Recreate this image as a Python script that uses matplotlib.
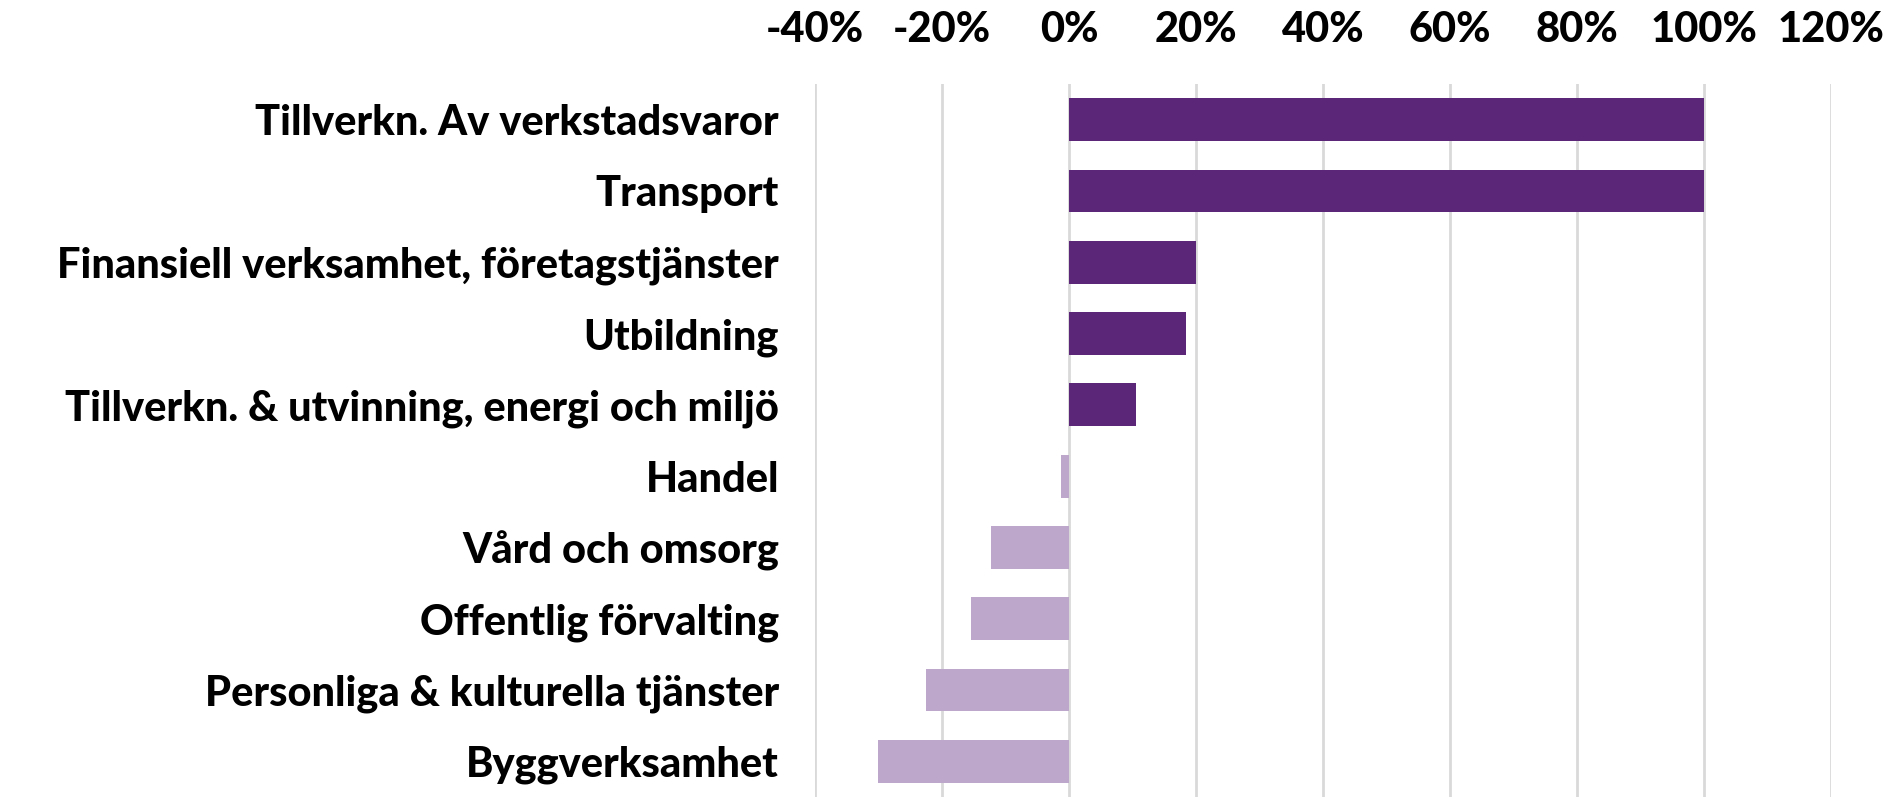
import matplotlib.pyplot as plt
from matplotlib.ticker import FuncFormatter

# --- data ---
categories = [
    "Tillverkn. Av verkstadsvaror",
    "Transport",
    "Finansiell verksamhet, företagstjänster",
    "Utbildning",
    "Tillverkn. & utvinning, energi och miljö",
    "Handel",
    "Vård och omsorg",
    "Offentlig förvalting",
    "Personliga & kulturella tjänster",
    "Byggverksamhet",
]
values = [100, 100, 20, 18.4, 10.5, -1.3, -12.3, -15.4, -22.5, -30.1]

dark_purple = "#5C2678"
light_purple = "#BDA8CB"
colors = [dark_purple if v >= 0 else light_purple for v in values]

plt.rcParams["font.family"] = ["Lato", "DejaVu Sans"]

fig = plt.figure(figsize=(18.92, 7.97), dpi=100)
ax = fig.add_axes([0.4308, 0.0, 0.5369, 0.8946])

y = list(range(len(categories)))
ax.barh(y, values, height=0.6, color=colors, zorder=3)

ax.set_xlim(-40, 120)
ax.set_ylim(len(categories) - 0.5, -0.5)
ax.set_xticks(range(-40, 121, 20))
ax.xaxis.set_major_formatter(FuncFormatter(lambda v, p: f"{v:.0f}%"))
ax.xaxis.tick_top()
ax.tick_params(axis="x", length=0, pad=25, labelsize=30)
ax.tick_params(axis="y", length=0, pad=26, labelsize=30)
ax.set_yticks(y)
ax.set_yticklabels(categories)
for lab in ax.get_xticklabels() + ax.get_yticklabels():
    lab.set_fontweight("black")

ax.grid(axis="x", color="#D9D9D9", linewidth=2, zorder=0)
for s in ax.spines.values():
    s.set_visible(False)

plt.savefig("out.png", dpi=100)
